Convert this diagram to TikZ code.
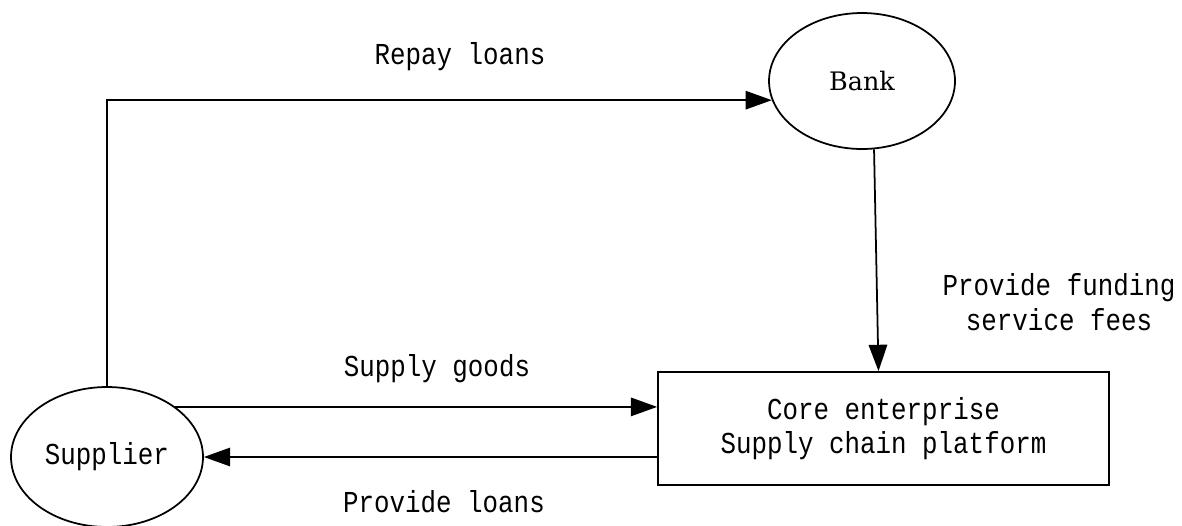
\documentclass[tikz,border=0pt]{standalone}
\usepackage{fontspec}
\setmainfont{Liberation Mono}[FakeStretch=0.85]
\newfontfamily\bankfont{DejaVu Serif}
\usetikzlibrary{arrows.meta,shapes.geometric,calc}

\begin{document}
\begin{tikzpicture}[x=0.02cm, y=-0.02cm, line width=1pt,
	>={Triangle[length=15pt,width=10.5pt]},
	font=\fontsize{17.3}{19.5}\selectfont,
	party/.style={draw, ellipse, inner sep=0pt},
	lbl/.style={align=center, inner sep=0pt}]
	\useasboundingbox (0,0) rectangle (1182,525);
	\node[party, minimum width=3.72cm, minimum height=2.72cm, font=\bankfont\fontsize{14.5}{17}\selectfont] (bank) at (862,81) {Bank};
	\node[party, minimum width=3.84cm, minimum height=2.8cm] (sup) at (107,457) {Supplier};
	\node[draw, minimum width=9.02cm, minimum height=2.26cm, align=center, font=\fontsize{17.3}{19.4}\selectfont] (core) at (883.5,428.5) {Core enterprise\\Supply chain platform};
	\draw[->] (sup.north) |- (bank.192);
	\draw[->] (bank.280) -- ($(core.north)+(-5,0)$);
	\draw[->] (sup.north east) -- (sup.north east -| core.west);
	\draw[->] (core.west |- sup) -- (sup.east);
	\node[lbl] (repay) at (460,57) {Repay loans};
	\node[lbl, font=\fontsize{17.3}{20}\selectfont] (fund) at (1059,302) {Provide funding\\service fees};
	\node[lbl] (goods) at (437,369) {Supply goods};
	\node[lbl] (loans) at (444,502) {Provide loans};
\end{tikzpicture}
\end{document}
